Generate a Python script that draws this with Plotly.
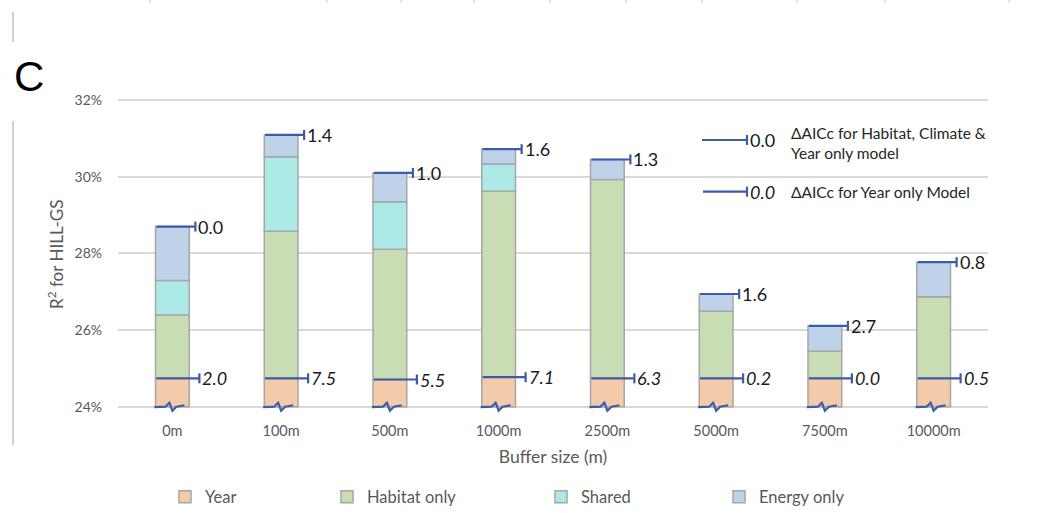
import plotly.graph_objects as go

# ---------------- data ----------------
categories = ["0m", "100m", "500m", "1000m", "2500m", "5000m", "7500m", "10000m"]
year_r2 = [24.74, 24.74, 24.71, 24.77, 24.74, 24.74, 24.74, 24.74]   # cumulative R2 of Year (%)
habitat_only = [1.65, 3.84, 3.40, 4.85, 5.19, 1.75, 0.71, 2.13]
shared = [0.90, 1.94, 1.24, 0.71, 0.0, 0.0, 0.0, 0.0]
energy_only = [1.41, 0.57, 0.75, 0.39, 0.52, 0.45, 0.66, 0.90]
daicc_full = ["0.0", "1.4", "1.0", "1.6", "1.3", "1.6", "2.7", "0.8"]
daicc_year = ["2.0", "7.5", "5.5", "7.1", "6.3", "0.2", "0.0", "0.5"]
y_ticks = [24, 26, 28, 30, 32]
y_tick_labels = ["24%", "26%", "28%", "30%", "32%"]
series_names = ["Year", "Habitat only", "Shared", "Energy only"]
series_colors = ["#F4CBAA", "#C9DDB5", "#ACEAE8", "#BED3EA"]

# ---------------- layout constants ----------------
W, H = 1042, 513
ML, MR, MT, MB = 118, 54, 97, 99
PW, PH = W - ML - MR, H - MT - MB
Y_MIN, Y_MAX = 23.81, 32.08
AXIS_BREAK = 24
X_RANGE = [-0.5, len(categories) - 0.5]
PX_X = PW / (X_RANGE[1] - X_RANGE[0])
PX_Y = PH / (Y_MAX - Y_MIN)
FONT = "Lato, 'Open Sans', sans-serif"
GREY = "#595959"
BLUE = "#3B5DA8"
BORDER = "#A6A6A6"
BAR_W = 0.31


def px(xp):
    return (xp - ML) / PW


def py(yp):
    return (H - MB - yp) / PH


xs = list(range(len(categories)))

# stacked bases
b_year = [AXIS_BREAK] * len(xs)
h_year = [v - AXIS_BREAK for v in year_r2]
b_hab = list(year_r2)
b_sh = [a + b for a, b in zip(b_hab, habitat_only)]
b_en = [a + b for a, b in zip(b_sh, shared)]
tops = [a + b for a, b in zip(b_en, energy_only)]

fig = go.Figure()
heights = [h_year, habitat_only, [v if v > 0 else None for v in shared], energy_only]
bases = [b_year, b_hab, b_sh, b_en]
legends = ["legend", "legend2", "legend3", "legend4"]
for name, col, hgt, base, lg in zip(series_names, series_colors, heights, bases, legends):
    fig.add_trace(go.Bar(
        x=xs, y=hgt, base=base, name=name, width=BAR_W,
        marker=dict(color=col, line=dict(color=BORDER, width=1.5)),
        legend=lg, showlegend=True,
    ))

shapes = []
annotations = []

# delta AICc markers on bars
def marker(i, yv, ext_px, text, italic):
    x0 = i - 16 / PX_X
    x1 = i + ext_px / PX_X
    shapes.append(dict(type="line", xref="x", yref="y", x0=x0, x1=x1, y0=yv, y1=yv,
                       line=dict(color=BLUE, width=2.2)))
    shapes.append(dict(type="line", xref="x", yref="y", x0=x1, x1=x1,
                       y0=yv - 5 / PX_Y, y1=yv + 5 / PX_Y, line=dict(color=BLUE, width=2.2)))
    annotations.append(dict(x=x1, y=yv, xref="x", yref="y", xanchor="left", yanchor="middle",
                            xshift=1, showarrow=False,
                            text=f"<i>{text}</i>" if italic else text,
                            font=dict(family=FONT, size=18, color="#1A1A1A")))


for i in xs:
    marker(i, tops[i], 23, daicc_full[i], False)
    marker(i, year_r2[i], 27, daicc_year[i], True)
    # axis break squiggle
    pts = [(-18, 0.5), (-7, 0), (-3, -4), (0, 4), (4, 0), (12, -1.5)]
    path = "M" + " L".join(f"{i + dx / PX_X},{AXIS_BREAK - dy / PX_Y}" for dx, dy in pts)
    shapes.append(dict(type="path", xref="x", yref="y", path=path,
                       line=dict(color=BLUE, width=2.2)))

# key (top right)
for yk, xs0, xs1, t, it in [(140, 702, 747, "0.0", False), (191.7, 703, 747, "0.0", True)]:
    shapes.append(dict(type="line", xref="paper", yref="paper", x0=px(xs0), x1=px(xs1),
                       y0=py(yk), y1=py(yk), line=dict(color=BLUE, width=2.2)))
    shapes.append(dict(type="line", xref="paper", yref="paper", x0=px(xs1), x1=px(xs1),
                       y0=py(yk - 5), y1=py(yk + 5), line=dict(color=BLUE, width=2.2)))
    annotations.append(dict(x=px(xs1), y=py(yk), xref="paper", yref="paper", xanchor="left",
                            yanchor="middle", xshift=1, showarrow=False,
                            text=f"<i>{t}</i>" if it else t,
                            font=dict(family=FONT, size=18, color="#1A1A1A")))
annotations.append(dict(x=px(789), y=py(143), xref="paper", yref="paper", xanchor="left",
                        yanchor="middle", showarrow=False, align="left",
                        text="ΔAICc for Habitat, Climate &amp;<br>Year only model",
                        font=dict(family=FONT, size=15.5, color="#262626")))
annotations.append(dict(x=px(789), y=py(191.7), xref="paper", yref="paper", xanchor="left",
                        yanchor="middle", showarrow=False, align="left",
                        text="ΔAICc for Year only Model",
                        font=dict(family=FONT, size=15.5, color="#262626")))

# panel letter and y title
annotations.append(dict(x=px(29), y=py(77), xref="paper", yref="paper", xanchor="center",
                        yanchor="middle", showarrow=False, text="C",
                        font=dict(family="Liberation Sans, Arial, sans-serif", size=42, color="black")))
annotations.append(dict(x=px(55), y=py(254), xref="paper", yref="paper", xanchor="center",
                        yanchor="middle", showarrow=False, textangle=-90,
                        text="R<sup>2</sup> for HILL-GS",
                        font=dict(family=FONT, size=17, color=GREY)))

# stray marks from neighbouring panel
shapes.append(dict(type="line", xref="paper", yref="paper", x0=px(13), x1=px(13),
                   y0=py(12), y1=py(42), line=dict(color="#D0D0D0", width=2)))
shapes.append(dict(type="line", xref="paper", yref="paper", x0=px(13), x1=px(13),
                   y0=py(121), y1=py(445), line=dict(color="#D0D0D0", width=2)))
for xm in [150, 327, 401, 474, 550, 626, 702, 797, 885, 1009]:
    shapes.append(dict(type="line", xref="paper", yref="paper", x0=px(xm), x1=px(xm),
                       y0=py(0), y1=py(3), line=dict(color="#DDDDDD", width=1.5)))

# legends
leg_common = dict(orientation="h", yanchor="middle", xanchor="left", bgcolor="rgba(0,0,0,0)",
                  font=dict(family=FONT, size=16.5, color=GREY), itemwidth=30,
                  y=py(497))
text_starts = [205, 367, 581, 759]
layout_legends = {}
for lg, ts in zip(legends, text_starts):
    layout_legends[lg] = dict(leg_common, x=px(ts - 40))

fig.update_layout(
    width=W, height=H,
    margin=dict(l=ML, r=MR, t=MT, b=MB, autoexpand=False),
    paper_bgcolor="white", plot_bgcolor="white",
    barmode="overlay",
    showlegend=True,
    xaxis=dict(range=X_RANGE, tickvals=xs, ticktext=categories, showgrid=False, zeroline=False,
               showline=False, ticks="", ticklabelstandoff=6,
               tickfont=dict(family=FONT, size=14.5, color=GREY),
               title=dict(text="Buffer size (m)", standoff=13,
                          font=dict(family=FONT, size=17.5, color=GREY))),
    yaxis=dict(range=[Y_MIN, Y_MAX], tickvals=y_ticks, ticktext=y_tick_labels,
               showgrid=True, gridcolor="#D9D9D9", gridwidth=1.5, zeroline=False,
               showline=False, ticks="", ticklabelstandoff=15,
               tickfont=dict(family=FONT, size=14, color=GREY)),
    shapes=shapes, annotations=annotations,
    **layout_legends,
)

fig.write_html("out.html", config={"displayModeBar": False},
               post_script="document.body.style.margin='0';document.body.style.overflow='hidden';")
